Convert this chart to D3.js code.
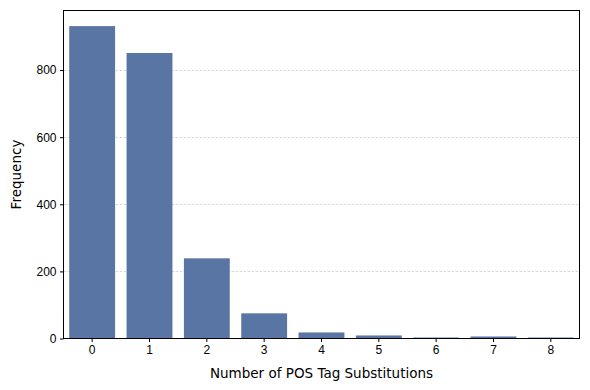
<!DOCTYPE html>
<html>
<head>
<meta charset="utf-8">
<script src="https://cdn.jsdelivr.net/npm/d3@7"></script>
<style>
  body { margin: 0; background: #fff; }
  svg { font-family: "DejaVu Sans", sans-serif; }
</style>
</head>
<body>
<svg width="590" height="390"></svg>
<script>
var categories = ["0", "1", "2", "3", "4", "5", "6", "7", "8"];
var counts = [931, 851, 239, 75, 18, 9, 3, 6, 3];
var yTicks = [0, 200, 400, 600, 800];

var svg = d3.select("svg");
var margin = {top: 10.5, right: 10.5, bottom: 51.5, left: 63.5};
var width = 590 - margin.left - margin.right;
var height = 390 - margin.top - margin.bottom;

var g = svg.append("g")
    .attr("transform", "translate(" + margin.left + "," + margin.top + ")");

var x = d3.scaleBand()
    .domain(categories)
    .range([0, width])
    .paddingInner(0.2)
    .paddingOuter(0.1);

var y = d3.scaleLinear()
    .domain([0, d3.max(counts) * 1.05])
    .range([height, 0]);

// grid lines
g.append("g")
    .selectAll("line")
    .data(yTicks.slice(1))
    .enter()
    .append("line")
    .attr("x1", 0)
    .attr("x2", width)
    .attr("y1", d => Math.round(y(d)))
    .attr("y2", d => Math.round(y(d)))
    .attr("stroke", "#c8c8c8")
    .attr("stroke-width", 0.7)
    .attr("stroke-dasharray", "2.5,1.5");

g.append("g")
    .selectAll("rect")
    .data(counts)
    .enter()
    .append("rect")
    .attr("x", (d, i) => x(categories[i]))
    .attr("width", x.bandwidth())
    .attr("y", d => y(d))
    .attr("height", d => height - y(d))
    .attr("fill", "#5975a4");

var xAxis = g.append("g")
    .attr("transform", "translate(0," + height + ")")
    .call(d3.axisBottom(x).tickSize(3.5).tickPadding(3.5));

var yAxis = g.append("g")
    .call(d3.axisLeft(y).tickValues(yTicks).tickSize(3.5).tickPadding(3.5));

[xAxis, yAxis].forEach(function (a) {
    a.select(".domain").remove();
    a.selectAll("text").attr("font-size", 12).attr("fill", "#000");
    a.selectAll("line").attr("stroke", "#000").attr("stroke-width", 1);
});

g.append("rect")
    .attr("width", width)
    .attr("height", height)
    .attr("fill", "none")
    .attr("stroke", "#000")
    .attr("stroke-width", 1);

svg.append("text")
    .attr("x", margin.left + width / 2)
    .attr("y", 378)
    .attr("text-anchor", "middle")
    .attr("font-size", 13.5)
    .text("Number of POS Tag Substitutions");

svg.append("text")
    .attr("transform", "translate(21," + (margin.top + height / 2) + ") rotate(-90)")
    .attr("text-anchor", "middle")
    .attr("font-size", 13.5)
    .text("Frequency");
</script>
</body>
</html>
